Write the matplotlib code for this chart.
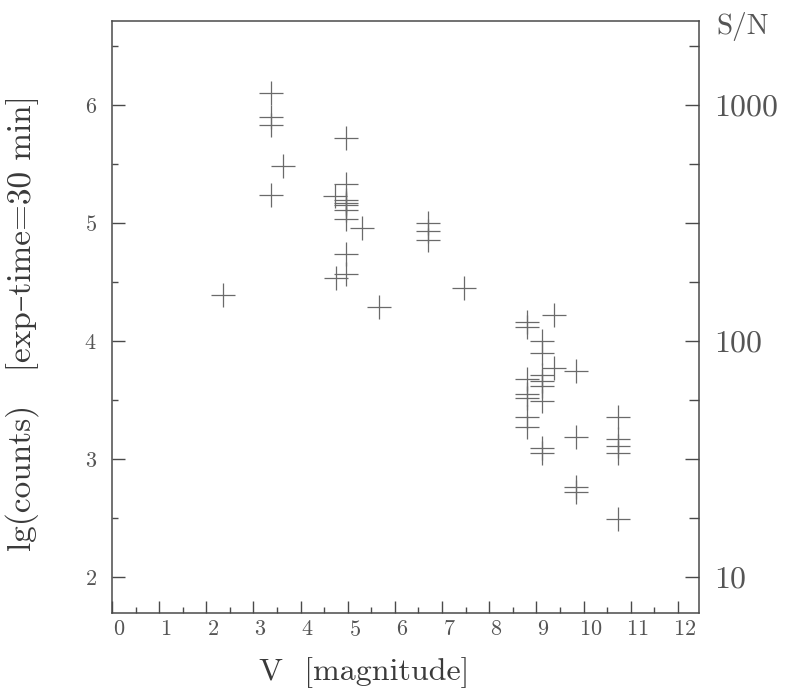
import matplotlib
matplotlib.use("Agg")
import matplotlib.pyplot as plt
from matplotlib.transforms import ScaledTranslation

# V magnitude and lg(counts) for each star
v_mag = [2.36, 3.37, 3.37, 3.37, 3.37, 3.62,
         4.73, 4.75, 4.97, 4.97, 4.97, 4.97, 4.97, 4.97, 4.97, 4.97, 4.97,
         5.30, 5.67, 6.70, 6.70, 6.70, 7.46,
         8.80, 8.80, 8.80, 8.80, 8.80, 8.80, 8.80,
         9.11, 9.11, 9.11, 9.11, 9.11, 9.11, 9.11, 9.11,
         9.37, 9.37, 9.84, 9.84, 9.84, 9.84,
         10.73, 10.73, 10.73, 10.73, 10.74]
lg_counts = [4.39, 6.10, 5.90, 5.83, 5.24, 5.48,
             5.23, 4.53, 5.72, 5.33, 5.195, 5.17, 5.15, 5.11, 5.03, 4.74, 4.57,
             4.96, 4.29, 5.00, 4.93, 4.86, 4.45,
             4.16, 4.12, 3.68, 3.55, 3.52, 3.36, 3.27,
             4.00, 3.90, 3.71, 3.66, 3.62, 3.49, 3.09, 3.05,
             4.22, 3.77, 3.75, 3.19, 2.76, 2.72,
             3.36, 3.17, 3.11, 3.05, 2.49]

x_ticks = list(range(0, 13))
y_ticks = [2, 3, 4, 5, 6]
sn_ticks = [2, 3, 4, 5, 6]          # lg(counts) positions of S/N ticks
sn_labels = ["10", "", "100", "", "1000"]

plt.rcParams["font.family"] = ["cmr10", "DejaVu Serif"]
plt.rcParams["axes.formatter.use_mathtext"] = True

edge = "#4a4a4a"
txt = "#555555"

fig = plt.figure(figsize=(7.93, 6.88), dpi=100)
ax = fig.add_axes([0.1412, 0.109, 0.7403, 0.8605])

ax.plot(v_mag, lg_counts, linestyle="none", marker="+", markersize=17,
        markeredgewidth=0.9, color="#6a6a6a")

ax.set_xlim(0, 12.45)
ax.set_ylim(1.695, 6.712)

for s in ax.spines.values():
    s.set_color(edge)
    s.set_linewidth(1.1)

ax.set_xticks(x_ticks)
ax.set_xticks([i + 0.5 for i in range(12)], minor=True)
ax.set_yticks(y_ticks)
ax.set_yticks([2.5, 3.5, 4.5, 5.5, 6.5], minor=True)
ax.tick_params(axis="both", which="major", direction="in", length=9,
               width=1.0, color=edge, labelsize=16, labelcolor=txt)
ax.tick_params(axis="both", which="minor", direction="in", length=4.5,
               width=1.0, color=edge)
ax.tick_params(axis="x", which="major", pad=5)
ax.tick_params(axis="y", which="major", pad=11)

# the original prints the x numbers a little right of their ticks
shift = ScaledTranslation(7 / 100, 0, fig.dpi_scale_trans)
for lab in ax.get_xticklabels():
    lab.set_transform(lab.get_transform() + shift)

ax.set_xlabel("V  [magnitude]", fontsize=23, color="#3a3a3a")
ax.xaxis.set_label_coords(0.43, -0.075)
ax.set_ylabel("lg(counts)   [exp\u2013time=30 min]", fontsize=24, color="#3a3a3a")
ax.yaxis.set_label_coords(-0.125, 0.49)

# right axis: S/N = sqrt(counts)
ax2 = ax.twinx()
ax2.set_ylim(ax.get_ylim())
ax2.set_yticks(sn_ticks)
ax2.set_yticklabels(sn_labels)
ax2.set_yticks([2.5, 3.5, 4.5, 5.5, 6.5], minor=True)
ax2.tick_params(axis="y", which="major", direction="in", length=10,
                width=1.0, color=edge, labelsize=23, labelcolor=txt, pad=11)
ax2.tick_params(axis="y", which="minor", direction="in", length=7,
                width=1.0, color=edge)
for s in ax2.spines.values():
    s.set_visible(False)

fig.text(0.937, 0.962, "S/N", fontsize=21, color=txt, ha="center", va="center")

fig.savefig("out.png", dpi=100, facecolor="white")
